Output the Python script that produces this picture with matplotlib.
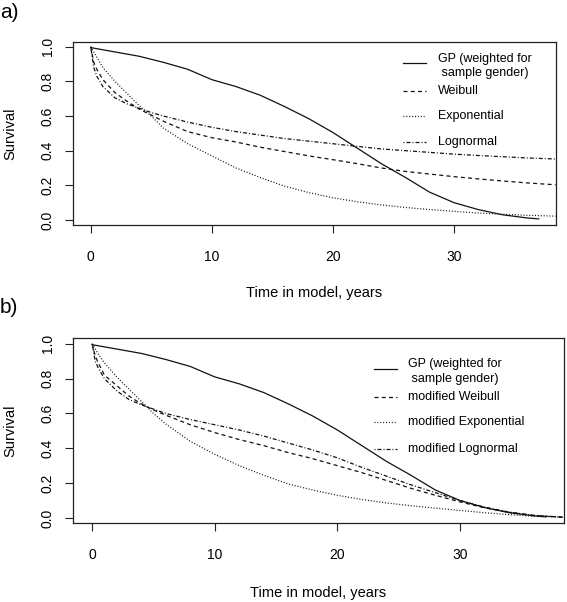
import matplotlib
matplotlib.use("Agg")
import matplotlib.pyplot as plt

plt.rcParams['font.family'] = ['Liberation Sans', 'DejaVu Sans']

# time grid shared by the fitted curves (years)
t_fit = [0, 0.25, 0.5, 1, 2, 3, 4, 5, 6, 8, 10, 12, 14, 16, 18, 20, 22, 24,
         26, 28, 30, 32, 34, 36, 38.4]

# GP survival (weighted for sample gender)
gp_t = [0, 2, 4, 6, 8, 10, 12, 14, 16, 18, 20, 22, 24, 26, 28, 30, 32, 34, 36, 37]
gp_s = [0.995, 0.97, 0.945, 0.91, 0.87, 0.81, 0.77, 0.72, 0.655, 0.585, 0.505,
        0.415, 0.325, 0.245, 0.16, 0.10, 0.06, 0.03, 0.012, 0.006]

# panel a
weibull = [1.0, 0.91, 0.87, 0.81, 0.735, 0.685, 0.64, 0.605, 0.57, 0.51, 0.475,
           0.45, 0.42, 0.395, 0.37, 0.348, 0.325, 0.30, 0.28, 0.265, 0.25,
           0.237, 0.225, 0.214, 0.203]
exponential = [1.0, 0.97, 0.94, 0.88, 0.80, 0.73, 0.66, 0.60, 0.53, 0.44, 0.37,
               0.30, 0.245, 0.195, 0.158, 0.128, 0.105, 0.087, 0.072, 0.06,
               0.05, 0.04, 0.033, 0.027, 0.022]
lognormal = [1.0, 0.88, 0.83, 0.77, 0.705, 0.67, 0.645, 0.62, 0.60, 0.565, 0.535,
             0.51, 0.49, 0.47, 0.455, 0.44, 0.425, 0.41, 0.40, 0.39, 0.38,
             0.372, 0.365, 0.358, 0.352]

# panel b
mod_weibull = [1.0, 0.93, 0.89, 0.82, 0.76, 0.70, 0.655, 0.62, 0.59, 0.535, 0.49,
               0.45, 0.415, 0.375, 0.34, 0.30, 0.26, 0.215, 0.17, 0.13, 0.092,
               0.058, 0.032, 0.014, 0.004]
mod_exponential = [1.0, 0.97, 0.94, 0.89, 0.81, 0.74, 0.67, 0.60, 0.54, 0.44,
                   0.365, 0.30, 0.245, 0.195, 0.16, 0.13, 0.106, 0.086, 0.07,
                   0.056, 0.043, 0.03, 0.019, 0.01, 0.004]
mod_lognormal = [1.0, 0.90, 0.86, 0.80, 0.73, 0.68, 0.65, 0.625, 0.60, 0.565,
                 0.535, 0.505, 0.47, 0.43, 0.39, 0.345, 0.29, 0.24, 0.19, 0.145,
                 0.10, 0.062, 0.034, 0.015, 0.004]

x_ticks = [0, 10, 20, 30]
y_ticks = [0.0, 0.2, 0.4, 0.6, 0.8, 1.0]
gp_label = "GP (weighted for\n sample gender)"

styles = ['-', (0, (3.2, 2.6)), (0, (0.8, 1.5)), (0, (0.8, 1.6, 3.2, 1.6))]
LW = 0.9
COL = '#111111'


def setup_axes(ax, xlim, ylim, xlab_y, ylab_x):
    ax.set_xlim(*xlim)
    ax.set_ylim(*ylim)
    ax.set_xticks(x_ticks)
    ax.set_yticks(y_ticks)
    ax.set_yticklabels(['%.1f' % v for v in y_ticks])
    ax.tick_params(length=6, width=0.8, labelsize=10, color='#222222')
    ax.tick_params(axis='x', pad=12)
    ax.tick_params(axis='y', pad=7, labelrotation=90)
    for lab in ax.get_yticklabels():
        lab.set_va('center')
    for sp in ax.spines.values():
        sp.set_linewidth(0.9)
        sp.set_color('#222222')
    ax.set_xlabel('Time in model, years', fontsize=10.5)
    ax.set_ylabel('Survival', fontsize=10.5)
    ax.xaxis.set_label_coords(0.5, xlab_y)
    ax.yaxis.set_label_coords(ylab_x, 0.5)


def add_key(ax, labels, x_line, x_text, y_lines, y_texts):
    for lab, ls, yl, yt in zip(labels, styles, y_lines, y_texts):
        ax.plot(x_line, [yl, yl], transform=ax.transAxes, color=COL, lw=LW,
                ls=ls, clip_on=False)
        ax.text(x_text, yt, lab, transform=ax.transAxes, fontsize=9,
                va='center', ha='left', linespacing=1.3)


fig = plt.figure(figsize=(5.67, 6.02), dpi=100)

# ---- panel a
ax1 = fig.add_axes([0.128, 0.626, 0.852, 0.305])
ax1.plot(gp_t, gp_s, color=COL, lw=LW, ls=styles[0])
for s, ls in zip([weibull, exponential, lognormal], styles[1:]):
    ax1.plot(t_fit, s, color=COL, lw=LW, ls=ls)
setup_axes(ax1, (-1.5, 38.4), (-0.03, 1.03), -0.33, -0.115)
add_key(ax1, [gp_label, 'Weibull', 'Exponential', 'Lognormal'],
        [0.684, 0.731], 0.756,
        [0.882, 0.728, 0.595, 0.452], [0.8675, 0.728, 0.595, 0.452])
fig.text(0.0, 0.995, 'a)', fontsize=15, va='top', ha='left')

# ---- panel b
ax2 = fig.add_axes([0.128, 0.131, 0.867, 0.308])
ax2.plot(gp_t, gp_s, color=COL, lw=LW, ls=styles[0])
for s, ls in zip([mod_weibull, mod_exponential, mod_lognormal], styles[1:]):
    ax2.plot(t_fit, s, color=COL, lw=LW, ls=ls)
setup_axes(ax2, (-1.6, 38.5), (-0.03, 1.035), -0.34, -0.113)
add_key(ax2, [gp_label, 'modified Weibull', 'modified Exponential',
              'modified Lognormal'],
        [0.613, 0.659], 0.682,
        [0.833, 0.679, 0.544, 0.401], [0.817, 0.679, 0.544, 0.401])
fig.text(0.0, 0.505, 'b)', fontsize=15, va='top', ha='left')

fig.savefig('out.png', dpi=100)
